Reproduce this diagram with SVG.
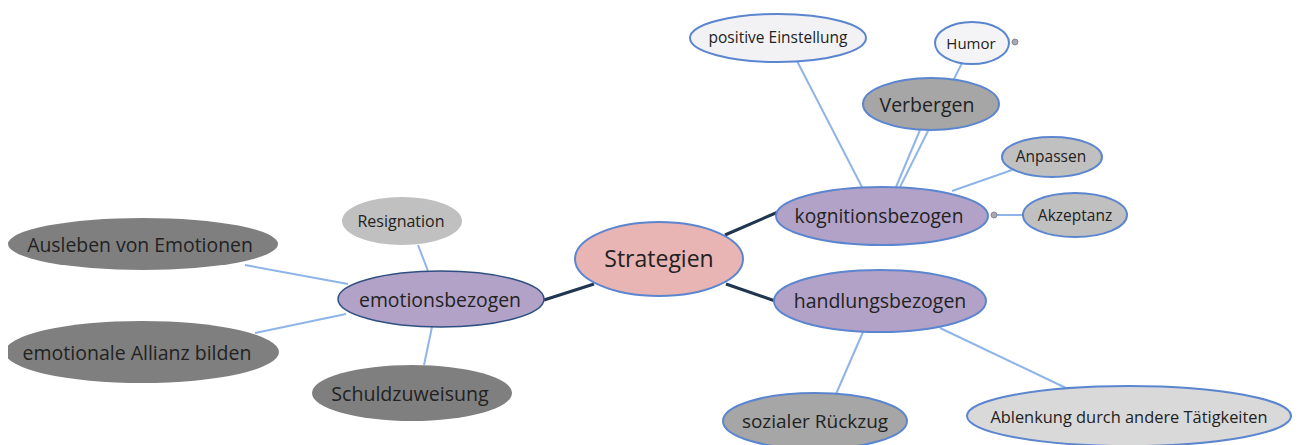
<svg xmlns="http://www.w3.org/2000/svg" width="1301" height="445" viewBox="0 0 1301 445">
<style>
text{font-family:"Open Sans","Noto Sans","DejaVu Sans",sans-serif;fill:#222;text-anchor:middle;dominant-baseline:central}
.main{stroke:#1f3550;stroke-width:3;fill:none}
.sub{stroke:#8fb4e8;stroke-width:2;fill:none}
.bl{stroke:#5b86cf;stroke-width:2}
.purple{fill:#b3a2c8}
.tog{fill:#a8a8b0;stroke:#7a7a88;stroke-width:0.8}
</style>
<defs>
<clipPath id="leftcut"><rect x="8" y="0" width="1293" height="445"/></clipPath>
</defs>
<rect width="1301" height="445" fill="#fff"/>
<g id="connectors">
<line class="main" x1="725" y1="235" x2="778" y2="212"/>
<line class="main" x1="726" y1="284" x2="778" y2="302"/>
<line class="main" x1="594" y1="284" x2="544" y2="300"/>
<line class="sub" x1="862" y1="187" x2="797" y2="61"/>
<line class="sub" x1="896" y1="187" x2="920" y2="130"/>
<line class="sub" x1="900" y1="187" x2="962" y2="63"/>
<line class="sub" x1="952" y1="191" x2="1012" y2="170"/>
<line class="sub" x1="995" y1="215" x2="1023" y2="215"/>
<line class="sub" x1="863" y1="332" x2="836" y2="394"/>
<line class="sub" x1="940" y1="328" x2="1066" y2="388"/>
<line class="sub" x1="418" y1="245" x2="428" y2="271"/>
<line class="sub" x1="245" y1="265" x2="348" y2="284"/>
<line class="sub" x1="255" y1="333" x2="346" y2="314"/>
<line class="sub" x1="432" y1="327" x2="424" y2="365"/>
</g>
<g id="n-strategien"><ellipse cx="659" cy="259" rx="84" ry="37" fill="#e8b4b4" class="bl"/><text x="659" y="258" font-size="23">Strategien</text></g>
<g id="n-kognitionsbezogen"><ellipse cx="882" cy="216" rx="106" ry="29" class="purple bl"/><text x="879" y="215" font-size="19.2">kognitionsbezogen</text></g>
<g id="n-handlungsbezogen"><ellipse cx="880" cy="301" rx="106" ry="31" class="purple bl"/><text x="880" y="300" font-size="19.5">handlungsbezogen</text></g>
<g id="n-emotionsbezogen"><ellipse cx="441" cy="299" rx="103" ry="28" class="purple" stroke="#2f4f80" stroke-width="1.5"/><text x="440" y="299" font-size="19.4">emotionsbezogen</text></g>
<g id="n-positive"><ellipse cx="778" cy="38" rx="88" ry="24" fill="#f2f2f4" class="bl"/><text x="778" y="37" font-size="15.5">positive Einstellung</text></g>
<g id="n-humor"><ellipse cx="972" cy="43" rx="37" ry="21" fill="#f4f4f6" class="bl"/><text x="971" y="43" font-size="15">Humor</text><circle class="tog" cx="1015" cy="42" r="3"/></g>
<g id="n-verbergen"><ellipse cx="931" cy="104" rx="68" ry="26" fill="#a6a6a6" class="bl"/><text x="927" y="104" font-size="19.5">Verbergen</text></g>
<g id="n-anpassen"><ellipse cx="1052" cy="157" rx="50" ry="20" fill="#c0c0c0" class="bl"/><text x="1051" y="156" font-size="15.5">Anpassen</text></g>
<g id="n-akzeptanz"><ellipse cx="1075" cy="215" rx="52" ry="22" fill="#c0c0c0" class="bl"/><circle class="tog" cx="994" cy="215" r="3"/><text x="1075" y="215" font-size="15.5">Akzeptanz</text></g>
<g id="n-rueckzug"><ellipse cx="815" cy="421" rx="92" ry="28" fill="#a6a6a6" class="bl"/><text x="815" y="421" font-size="19">sozialer Rückzug</text></g>
<g id="n-ablenkung"><ellipse cx="1129" cy="416" rx="162" ry="30" fill="#d9d9d9" class="bl"/><text x="1129" y="416" font-size="16.4">Ablenkung durch andere Tätigkeiten</text></g>
<g id="n-resignation"><ellipse cx="402" cy="221" rx="60" ry="24" fill="#c0c0c0"/><text x="401" y="221" font-size="16">Resignation</text></g>
<g id="n-ausleben"><ellipse cx="143" cy="244" rx="135" ry="26" fill="#7f7f7f"/><text x="140" y="244" font-size="19.4">Ausleben von Emotionen</text></g>
<g id="n-allianz"><ellipse cx="142" cy="352" rx="137" ry="31" fill="#7f7f7f" clip-path="url(#leftcut)"/><text x="137" y="352" font-size="19.5">emotionale Allianz bilden</text></g>
<g id="n-schuld"><ellipse cx="412" cy="393" rx="100" ry="28" fill="#7f7f7f"/><text x="410" y="393" font-size="19.6">Schuldzuweisung</text></g>
</svg>
